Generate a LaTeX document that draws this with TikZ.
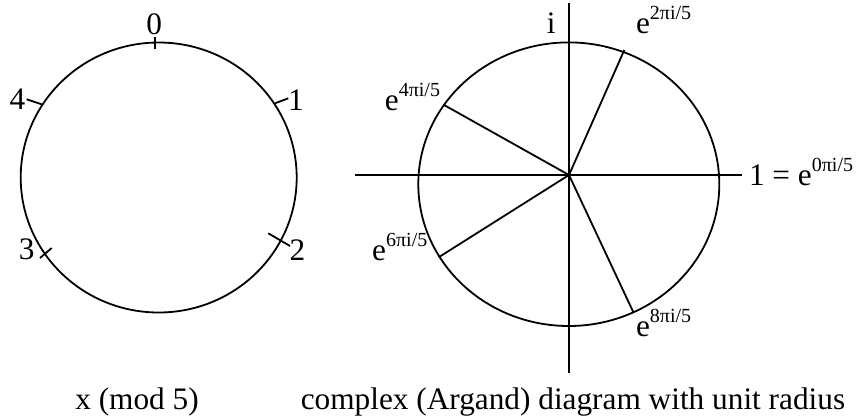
\documentclass[tikz,border=0pt]{standalone}
\usepackage{fontspec}
\setmainfont{Liberation Serif}
\newcommand{\supx}[1]{\raisebox{14pt}{\fontsize{20}{20}\selectfont #1}}
\begin{document}
\begin{tikzpicture}[x=1pt,y=-1pt,
  line width=1.8pt,
  lbl/.style={inner sep=0pt, font=\fontsize{31.3}{31.3}\selectfont},
  lblw/.style={lbl, anchor=base west},
  lblc/.style={lbl, anchor=base}]
\useasboundingbox (0,0) rectangle (863,416);
% ---------------- left circle ----------------
\coordinate (C) at (158.7,177.5);
\draw (C) ellipse [x radius=138pt, y radius=135pt];
\draw (155,36.7) -- (155,49);
\draw (275,103.3) -- (288.3,98.3);
\draw (26.7,99.3) -- (41.7,104.3);
\draw (40,258) -- (51.7,248);
\draw (268.3,233.3) -- (290,246);
\node[lbl] (l0) at (154.3,24) {0};
\node[lbl] (l1) at (296,100) {1};
\node[lbl] (l4) at (17.5,99) {4};
\node[lbl] (l3) at (26.7,249) {3};
\node[lbl] (l2) at (297.5,250.5) {2};
\node[lblc] (capL) at (137,409) {x (mod 5)};
% ---------------- right Argand diagram ----------------
\coordinate (O) at (569,175);
\draw (568.8,184.2) ellipse [x radius=150.5pt, y radius=141.8pt];
\coordinate (vt) at (569,3.3);
\coordinate (vb) at (569,373.3);
\coordinate (hl) at (354.9,175);
\coordinate (hr) at (741.5,175);
\draw (vt) -- (vb);
\draw (hl) -- (hr);
\coordinate (p2) at (624.3,50);
\coordinate (p4) at (444.1,105);
\coordinate (p6) at (438.6,257.3);
\coordinate (p8) at (633.4,312.3);
\draw (O) -- (p2);
\draw (O) -- (p4);
\draw (O) -- (p6);
\draw (O) -- (p8);
\node[lblw] (li) at (546,33) {i};
\node[lblw] (e2) at (635.2,33) {e\supx{2πi/5}};
\node[lblw] (e4) at (384,110) {e\supx{4πi/5}};
\node[lblw] (e6) at (371.3,260) {e\supx{6πi/5}};
\node[lblw] (e8) at (635.2,336.7) {e\supx{8πi/5}};
\node[lblw] (e0) at (748.1,185) {1 = e\supx{0πi/5}};
\node[lblc] (capR) at (573,409) {complex (Argand) diagram with unit radius};
\end{tikzpicture}
\end{document}
